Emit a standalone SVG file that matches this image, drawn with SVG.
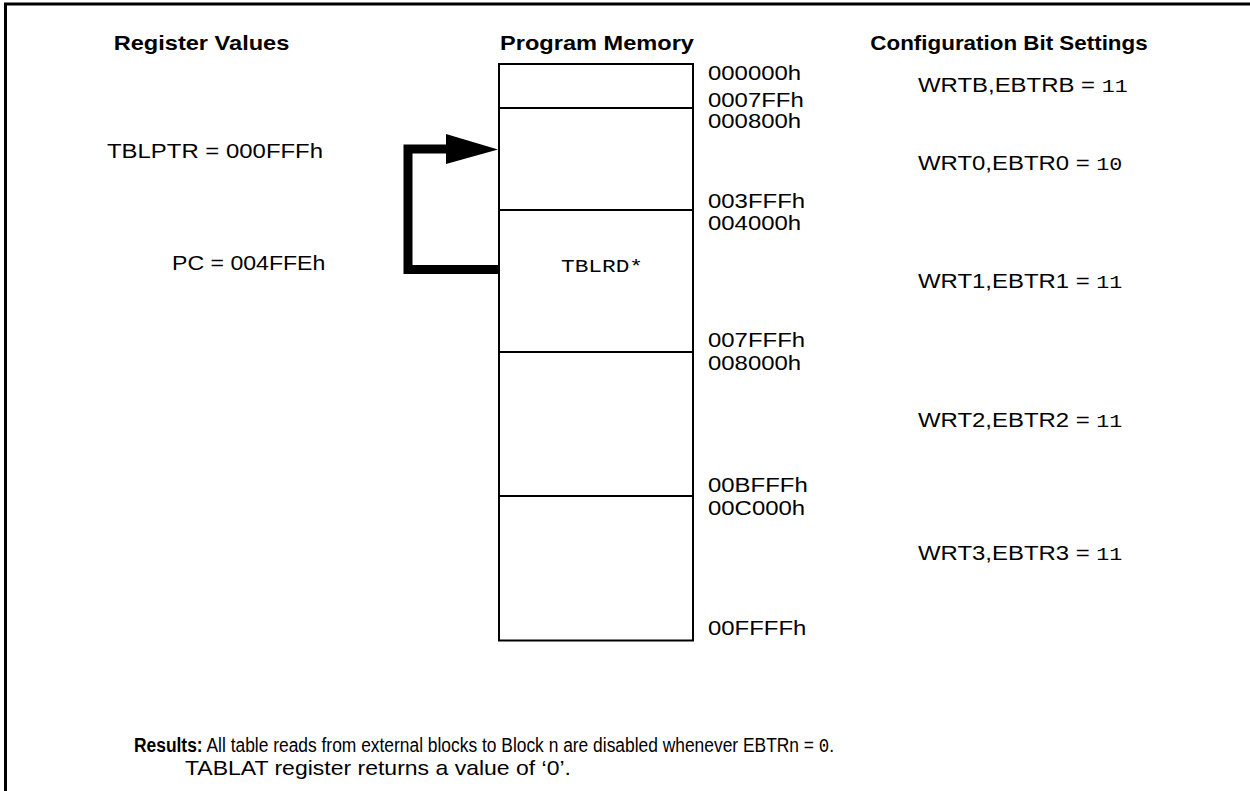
<svg xmlns="http://www.w3.org/2000/svg" width="1250" height="791" viewBox="0 0 1250 791">
<style>
.h{font-family:"Liberation Sans",Arial,sans-serif;font-weight:bold;font-size:20px;fill:#000}
.t{font-family:"Liberation Sans",Arial,sans-serif;font-size:21px;fill:#000}
.m{font-family:"Liberation Mono","Courier New",monospace;font-size:19px;fill:#000}
.r{font-family:"Liberation Sans",Arial,sans-serif;font-size:20px;fill:#000}
.b{font-weight:bold}
.ln{stroke:#000;stroke-width:2;fill:none}
</style>
<rect width="1250" height="791" fill="#fff"/>
<g id="frame">
<path d="M5.5 791 V4 H1250" fill="none" stroke="#000" stroke-width="3"/>
</g>
<g id="headers">
<text class="h" text-anchor="middle" transform="translate(201.5,50) scale(1.18,1)">Register Values</text>
<text class="h" text-anchor="middle" transform="translate(597,50) scale(1.18,1)">Program Memory</text>
<text class="h" text-anchor="middle" transform="translate(1009,50) scale(1.12,1)">Configuration Bit Settings</text>
</g>
<g id="registers">
<text class="t" transform="translate(107,158) scale(1.14,1)">TBLPTR = 000FFFh</text>
<text class="t" transform="translate(172,270) scale(1.1,1)">PC = 004FFEh</text>
</g>
<g id="memory">
<rect x="499" y="64" width="194" height="576.5" class="ln"/>
<line x1="499" y1="108" x2="693" y2="108" class="ln"/>
<line x1="499" y1="210" x2="693" y2="210" class="ln"/>
<line x1="499" y1="352" x2="693" y2="352" class="ln"/>
<line x1="499" y1="496" x2="693" y2="496" class="ln"/>
<text class="m" transform="translate(561,272) scale(1.2,1)">TBLRD*</text>
</g>
<g id="addresses">
<text class="t" transform="translate(708,80) scale(1.14,1)">000000h</text>
<text class="t" transform="translate(708,107) scale(1.14,1)">0007FFh</text>
<text class="t" transform="translate(708,128) scale(1.14,1)">000800h</text>
<text class="t" transform="translate(708,208) scale(1.14,1)">003FFFh</text>
<text class="t" transform="translate(708,230) scale(1.14,1)">004000h</text>
<text class="t" transform="translate(708,347) scale(1.14,1)">007FFFh</text>
<text class="t" transform="translate(708,370) scale(1.14,1)">008000h</text>
<text class="t" transform="translate(708,492) scale(1.14,1)">00BFFFh</text>
<text class="t" transform="translate(708,515) scale(1.14,1)">00C000h</text>
<text class="t" transform="translate(708,635) scale(1.14,1)">00FFFFh</text>
</g>
<g id="config">
<text class="t" transform="translate(918,92) scale(1.14,1)">WRTB,EBTRB = <tspan class="m">11</tspan></text>
<text class="t" transform="translate(918,170) scale(1.14,1)">WRT0,EBTR0 = <tspan class="m">10</tspan></text>
<text class="t" transform="translate(918,288) scale(1.14,1)">WRT1,EBTR1 = <tspan class="m">11</tspan></text>
<text class="t" transform="translate(918,427) scale(1.14,1)">WRT2,EBTR2 = <tspan class="m">11</tspan></text>
<text class="t" transform="translate(918,560) scale(1.14,1)">WRT3,EBTR3 = <tspan class="m">11</tspan></text>
</g>
<g id="connectors">
<path d="M498 269.5 H408 V149 H450" fill="none" stroke="#000" stroke-width="9" stroke-linejoin="miter"/>
<polygon points="446,134 498,149.5 446,164" fill="#000"/>
</g>
<g id="results">
<text class="r" transform="translate(134,752) scale(0.87,1)"><tspan class="b">Results:</tspan> All table reads from external blocks to Block n are disabled whenever EBTRn = <tspan class="m" style="font-size:20px">0</tspan>.</text>
<text class="r" transform="translate(185,775) scale(1.15,1)">TABLAT register returns a value of ‘0’.</text>
</g>
</svg>
